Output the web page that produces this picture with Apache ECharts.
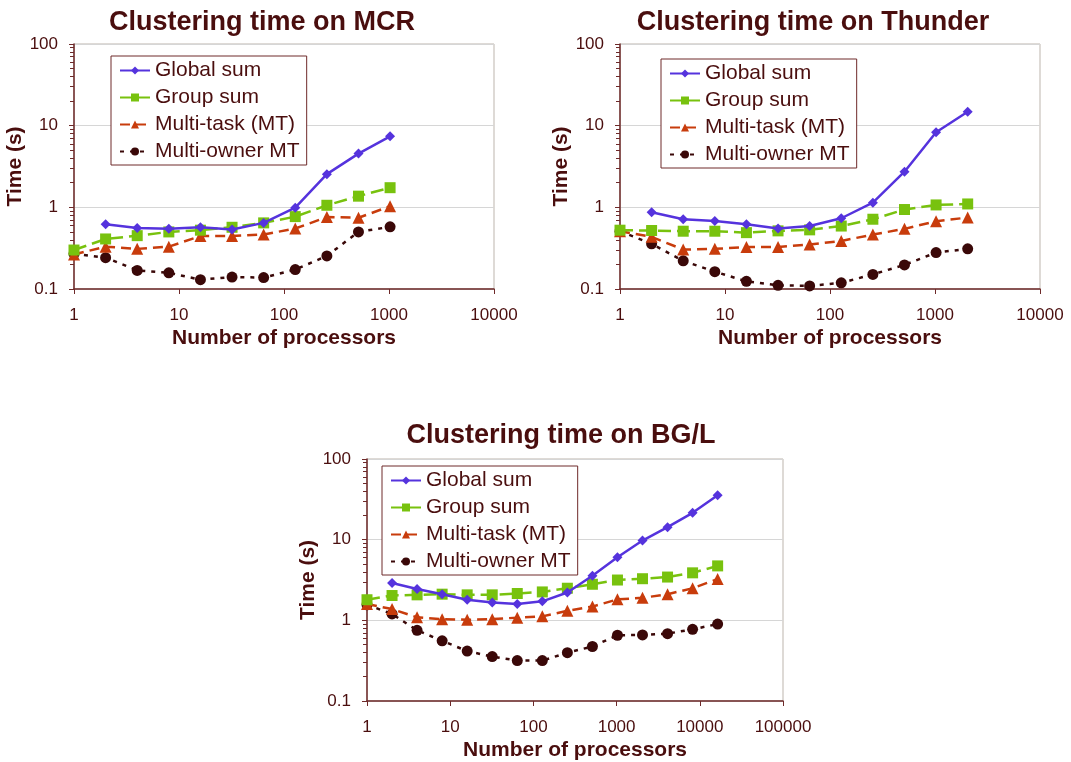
<!DOCTYPE html>
<html>
<head>
<meta charset="utf-8">
<script src="https://cdn.jsdelivr.net/npm/echarts@6/dist/echarts.min.js"></script>
<style>
html, body { margin: 0; padding: 0; background: #fff; }
#main { width: 1071px; height: 762px; }
</style>
</head>
<body>
<div id="main"></div>
<script>
var dom = document.getElementById('main');
var myChart = echarts.init(dom, null, { renderer: 'canvas' });

// processor counts
const procsMCR = [1, 2, 4, 8, 16, 32, 64, 128, 256, 512, 1024];
const procsThunder = [1, 2, 4, 8, 16, 32, 64, 128, 256, 512, 1024, 2048];
const procsBGL = [1, 2, 4, 8, 16, 32, 64, 128, 256, 512, 1024, 2048, 4096, 8192, 16384];

const seriesNames = ['Global sum', 'Group sum', 'Multi-task (MT)', 'Multi-owner MT'];
const chartTitles = ['Clustering time on MCR', 'Clustering time on Thunder', 'Clustering time on BG/L'];
const xTickMax = [10000, 10000, 100000];

// MCR times (s)
const mcrGlobal = [null, 0.62, 0.56, 0.545, 0.57, 0.535, 0.645, 0.99, 2.55, 4.55, 7.4];
const mcrGroup = [0.30, 0.41, 0.45, 0.50, 0.525, 0.57, 0.645, 0.77, 1.06, 1.37, 1.74];
const mcrMT = [0.265, 0.33, 0.31, 0.33, 0.445, 0.447, 0.465, 0.55, 0.76, 0.745, 1.03];
const mcrOwner = [0.27, 0.242, 0.169, 0.158, 0.130, 0.140, 0.138, 0.173, 0.254, 0.50, 0.577];

// Thunder times (s)
const thGlobal = [null, 0.87, 0.715, 0.68, 0.62, 0.55, 0.59, 0.735, 1.14, 2.73, 8.3, 14.8];
const thGroup = [0.525, 0.52, 0.51, 0.51, 0.49, 0.515, 0.53, 0.59, 0.715, 0.94, 1.07, 1.10];
const thMT = [0.51, 0.435, 0.304, 0.31, 0.327, 0.327, 0.35, 0.388, 0.464, 0.545, 0.677, 0.75];
const thOwner = [0.51, 0.357, 0.221, 0.163, 0.124, 0.111, 0.109, 0.119, 0.151, 0.197, 0.279, 0.31];

// BG/L times (s)
const bglGlobal = [null, 2.9, 2.45, 2.11, 1.80, 1.66, 1.59, 1.72, 2.21, 3.57, 6.04, 9.75, 14.3, 21.5, 35.6];
const bglGroup = [1.80, 2.03, 2.07, 2.11, 2.07, 2.07, 2.15, 2.25, 2.50, 2.80, 3.16, 3.28, 3.44, 3.88, 4.73];
const bglMT = [1.59, 1.38, 1.09, 1.035, 1.016, 1.035, 1.08, 1.12, 1.31, 1.48, 1.82, 1.90, 2.11, 2.50, 3.25];
const bglOwner = [1.56, 1.20, 0.752, 0.557, 0.416, 0.355, 0.317, 0.317, 0.397, 0.474, 0.653, 0.659, 0.684, 0.774, 0.899];

const charts = [
    { procs: procsMCR, values: [mcrGlobal, mcrGroup, mcrMT, mcrOwner] },
    { procs: procsThunder, values: [thGlobal, thGroup, thMT, thOwner] },
    { procs: procsBGL, values: [bglGlobal, bglGroup, bglMT, bglOwner] }
];

const textDark = '#4a0e0e';
const axisColor = '#6e2a2a';
const font = 'Liberation Sans, Arial, sans-serif';

// layout of the three panels
const grids = [
    { left: 74, top: 44, width: 420, height: 245 },
    { left: 620, top: 44, width: 420, height: 245 },
    { left: 367, top: 459, width: 416, height: 245 }
];
const titlePos = [{ x: 257, y: 4 }, { x: 808, y: 4 }, { x: 556, y: 417 }];
const legendPos = [{ x: 111, y: 56 }, { x: 661, y: 59 }, { x: 382, y: 466 }];

const seriesStyles = [
    { color: '#5533dd', symbol: 'diamond', symbolSize: 10, type: 'solid' },
    { color: '#78c20e', symbol: 'rect', symbolSize: 11, type: [13, 6] },
    { color: '#c83c0c', symbol: 'triangle', symbolSize: 12, type: [10, 6] },
    { color: '#3a0808', symbol: 'circle', symbolSize: 11, type: [4, 6] }
];

var option = {
    animation: false,
    backgroundColor: '#fff',
    title: [],
    legend: [],
    grid: [],
    xAxis: [],
    yAxis: [],
    series: []
};

charts.forEach(function (c, i) {
    option.title.push({
        text: chartTitles[i],
        left: titlePos[i].x,
        top: titlePos[i].y,
        textAlign: 'center',
        textStyle: { fontFamily: font, fontSize: 27, fontWeight: 'bold', color: textDark }
    });
    option.legend.push({
        data: seriesNames,
        orient: 'vertical',
        left: legendPos[i].x,
        top: legendPos[i].y,
        backgroundColor: '#fff',
        borderColor: '#6e2a2a',
        borderWidth: 1,
        padding: [4, 7, 3, 8],
        itemGap: 6,
        itemWidth: 30,
        itemHeight: 10,
        textStyle: { fontFamily: font, fontSize: 21, color: textDark }
    });
    option.grid.push(Object.assign({
        show: true,
        borderColor: '#bdb5ad',
        borderWidth: 1,
        backgroundColor: '#fff'
    }, grids[i]));
    option.xAxis.push({
        type: 'log',
        gridIndex: i,
        min: 1,
        max: xTickMax[i],
        logBase: 10,
        name: 'Number of processors',
        nameLocation: 'middle',
        nameGap: 39,
        nameTextStyle: { fontFamily: font, fontSize: 21, fontWeight: 'bold', color: textDark },
        axisLine: { show: true, lineStyle: { color: axisColor, width: 1.5 } },
        axisTick: { show: true, inside: false, length: 5, lineStyle: { color: axisColor } },
        axisLabel: {
            fontFamily: font, fontSize: 17, color: textDark, margin: 18,
            formatter: function (v) { return String(v); }
        },
        splitLine: { show: false }
    });
    option.yAxis.push({
        type: 'log',
        gridIndex: i,
        min: 0.1,
        max: 100,
        logBase: 10,
        name: 'Time (s)',
        nameLocation: 'middle',
        nameGap: 47,
        nameTextStyle: { fontFamily: font, fontSize: 21, fontWeight: 'bold', color: textDark },
        axisLine: { show: true, lineStyle: { color: axisColor, width: 1.5 } },
        axisTick: { show: true, inside: false, length: 5, lineStyle: { color: axisColor } },
        minorTick: { show: true, splitNumber: 9, length: 4, lineStyle: { color: axisColor } },
        axisLabel: {
            fontFamily: font, fontSize: 17, color: textDark, margin: 16,
            formatter: function (v) { return String(v); }
        },
        splitLine: { show: true, lineStyle: { color: '#d6d6d6', width: 1 } }
    });
    c.values.forEach(function (vals, k) {
        var st = seriesStyles[k];
        var pts = [];
        c.procs.forEach(function (p, j) {
            if (vals[j] != null) pts.push([p, vals[j]]);
        });
        option.series.push({
            name: seriesNames[k],
            type: 'line',
            xAxisIndex: i,
            yAxisIndex: i,
            data: pts,
            symbol: st.symbol,
            symbolSize: st.symbolSize,
            showAllSymbol: true,
            z: 10 - k,
            itemStyle: { color: st.color },
            lineStyle: { color: st.color, width: 2.5, type: st.type }
        });
    });
});

myChart.setOption(option);
window.addEventListener('resize', myChart.resize);
</script>
</body>
</html>
